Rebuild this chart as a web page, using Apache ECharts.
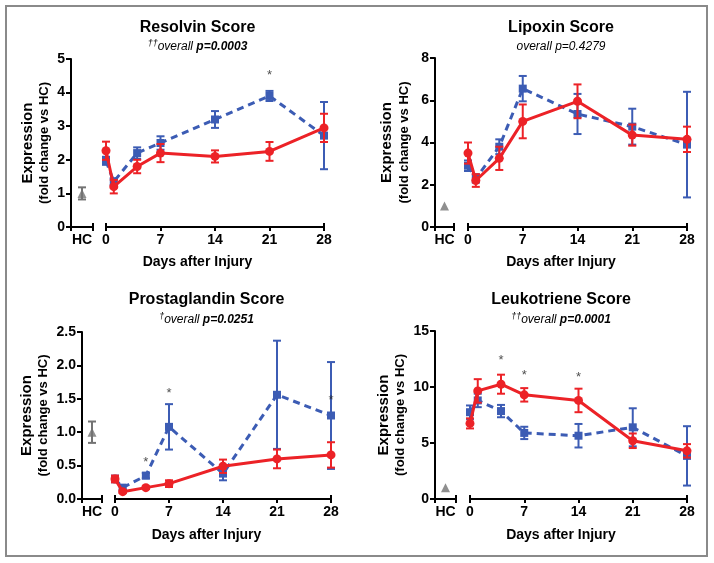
<!DOCTYPE html>
<html>
<head>
<meta charset="utf-8">
<script src="https://cdn.jsdelivr.net/npm/echarts@6/dist/echarts.min.js"></script>
<style>
html,body{margin:0;padding:0;background:#fff;}
#c{width:714px;height:563px;}
</style>
</head>
<body>
<div id="c"></div>
<script>
// ---------- data ----------
const days = [0, 1, 4, 7, 14, 21, 28];
const xTicks = [0, 7, 14, 21, 28];
const hcLabel = ['HC'];

const titles = ['Resolvin Score', 'Lipoxin Score', 'Prostaglandin Score', 'Leukotriene Score'];
const subDagger = ['††', '', '†', '††'];
const subP = ['p=0.0003', 'p=0.4279', 'p=0.0251', 'p=0.0001'];
const subBold = [true, false, true, true];

const yMax = [5, 8, 2.5, 15];
const yInterval = [1, 2, 0.5, 5];

// Resolvin
const resBlue = [1.97, 1.35, 2.2, 2.5, 3.2, 3.9, 2.72];
const resBlueErr = [0.12, 0.1, 0.17, 0.2, 0.25, 0.15, 1.0];
const resRed = [2.27, 1.2, 1.8, 2.2, 2.1, 2.25, 2.95];
const resRedErr = [0.27, 0.2, 0.2, 0.27, 0.18, 0.28, 0.42];
const resHC = [1.0];
const resHCErr = [0.18];
const resStars = [[21, 4.5]];

// Lipoxin
const lipBlue = [2.9, 2.3, 3.8, 6.55, 5.35, 4.75, 3.9];
const lipBlueErr = [0.25, 0.2, 0.35, 0.6, 0.95, 0.85, 2.5];
const lipRed = [3.5, 2.2, 3.25, 5.0, 5.95, 4.35, 4.15];
const lipRedErr = [0.5, 0.3, 0.55, 0.8, 0.8, 0.5, 0.6];
const lipHC = [1.0];
const lipHCErr = [0];
const lipStars = [];

// Prostaglandin
const proBlue = [0.3, 0.17, 0.35, 1.08, 0.38, 1.56, 1.25];
const proBlueErr = [0.05, 0.03, 0.04, 0.34, 0.1, 0.81, 0.8];
const proRed = [0.3, 0.11, 0.17, 0.23, 0.49, 0.6, 0.66];
const proRedErr = [0.05, 0.02, 0.02, 0.05, 0.1, 0.14, 0.19];
const proHC = [1.0];
const proHCErr = [0.16];
const proStars = [[4, 0.55], [7, 1.58], [28, 1.48]];

// Leukotriene
const leuBlue = [7.75, 8.8, 7.85, 5.9, 5.65, 6.4, 3.85];
const leuBlueErr = [0.6, 0.6, 0.55, 0.55, 1.05, 1.7, 2.65];
const leuRed = [6.75, 9.65, 10.25, 9.3, 8.8, 5.2, 4.3];
const leuRedErr = [0.45, 1.05, 0.85, 0.6, 1.05, 0.65, 0.6];
const leuHC = [1.0];
const leuHCErr = [0];
const leuStars = [[4, 12.35], [7, 11.0], [14, 10.85]];

const panelsData = [
  {blue: resBlue, blueErr: resBlueErr, red: resRed, redErr: resRedErr, hc: resHC, hcErr: resHCErr, stars: resStars},
  {blue: lipBlue, blueErr: lipBlueErr, red: lipRed, redErr: lipRedErr, hc: lipHC, hcErr: lipHCErr, stars: lipStars},
  {blue: proBlue, blueErr: proBlueErr, red: proRed, redErr: proRedErr, hc: proHC, hcErr: proHCErr, stars: proStars},
  {blue: leuBlue, blueErr: leuBlueErr, red: leuRed, redErr: leuRedErr, hc: leuHC, hcErr: leuHCErr, stars: leuStars}
];

// ---------- layout ----------
const layout = [
  {yx: 71, top: 59, bottom: 227, hcEnd: 93, ms: 106, me: 324, titleY: 29, subY: 46, xnameY: 263, n1: 28, n2: 44},
  {yx: 435, top: 58, bottom: 227, hcEnd: 454, ms: 468, me: 687, titleY: 29, subY: 46, xnameY: 263, n1: 387, n2: 404},
  {yx: 82, top: 332, bottom: 499, hcEnd: 102, ms: 115, me: 331, titleY: 301, subY: 319, xnameY: 536, n1: 27, n2: 43},
  {yx: 435, top: 331, bottom: 499, hcEnd: 456, ms: 470, me: 687, titleY: 301, subY: 319, xnameY: 536, n1: 384, n2: 400}
];

const BLUE = '#3c5cb4';
const RED = '#ec2227';
const GRAY = '#737373';
const FONT = '"Liberation Sans", Arial, sans-serif';

function errRender(color, capW) {
  return function (params, api) {
    const x = api.value(0);
    const p1 = api.coord([x, api.value(1)]);
    const p2 = api.coord([x, api.value(2)]);
    const st = {stroke: color, lineWidth: 2};
    if (Math.abs(p1[1] - p2[1]) < 0.5) return {type: 'group', children: []};
    return {
      type: 'group',
      children: [
        {type: 'line', shape: {x1: p1[0], y1: p1[1], x2: p2[0], y2: p2[1]}, style: st},
        {type: 'line', shape: {x1: p1[0] - capW, y1: p1[1], x2: p1[0] + capW, y2: p1[1]}, style: st},
        {type: 'line', shape: {x1: p2[0] - capW, y1: p2[1], x2: p2[0] + capW, y2: p2[1]}, style: st}
      ]
    };
  };
}

const option = {
  animation: false,
  backgroundColor: '#fff',
  title: [], grid: [], xAxis: [], yAxis: [], series: [], graphic: []
};

const axisLbl = {color: '#000', fontFamily: FONT, fontWeight: 'bold', fontSize: 14};

layout.forEach((L, i) => {
  const D = panelsData[i];
  const gHC = option.grid.length;
  option.grid.push({left: L.yx, top: L.top, width: L.hcEnd - L.yx, height: L.bottom - L.top});
  const gM = option.grid.length;
  option.grid.push({left: L.ms, top: L.top, width: L.me - L.ms, height: L.bottom - L.top});

  const xHC = option.xAxis.length;
  option.xAxis.push({
    type: 'category', gridIndex: gHC, data: hcLabel, boundaryGap: true, position: 'bottom',
    axisLine: {show: true, onZero: false, lineStyle: {color: '#000', width: 2}},
    axisTick: {show: true, length: 4, lineStyle: {color: '#000', width: 2}, alignWithLabel: false},
    axisLabel: Object.assign({margin: 6}, axisLbl),
    splitLine: {show: false}
  });
  option.xAxis.push({
    type: 'category', gridIndex: gHC, data: hcLabel, boundaryGap: true, position: 'bottom',
    axisLine: {show: false, onZero: false},
    axisTick: {show: true, inside: true, length: 4, lineStyle: {color: '#000', width: 2}},
    axisLabel: {show: false}, splitLine: {show: false}
  });
  const xM = option.xAxis.length;
  option.xAxis.push({
    type: 'value', gridIndex: gM, min: 0, max: 28, interval: 7, position: 'bottom',
    axisLine: {show: true, onZero: false, lineStyle: {color: '#000', width: 2}},
    axisTick: {show: true, length: 4, lineStyle: {color: '#000', width: 2}},
    axisLabel: Object.assign({margin: 6}, axisLbl),
    splitLine: {show: false}
  });
  option.xAxis.push({
    type: 'value', gridIndex: gM, min: 0, max: 28, interval: 28, position: 'bottom',
    axisLine: {show: false, onZero: false},
    axisTick: {show: true, inside: true, length: 4, lineStyle: {color: '#000', width: 2}},
    axisLabel: {show: false}, splitLine: {show: false}
  });

  const yHC = option.yAxis.length;
  option.yAxis.push({
    type: 'value', gridIndex: gHC, min: 0, max: yMax[i], interval: yInterval[i], position: 'left',
    axisLine: {show: true, onZero: false, lineStyle: {color: '#000', width: 2}},
    axisTick: {show: true, length: 5, lineStyle: {color: '#000', width: 2}},
    axisLabel: Object.assign({margin: 6, formatter: v => (i === 2 ? v.toFixed(1) : String(v))}, axisLbl),
    splitLine: {show: false}
  });
  const yM = option.yAxis.length;
  option.yAxis.push({
    type: 'value', gridIndex: gM, min: 0, max: yMax[i], interval: yInterval[i], show: false,
    splitLine: {show: false}
  });

  // HC
  option.series.push({
    type: 'custom', xAxisIndex: xHC, yAxisIndex: yHC, z: 3,
    renderItem: errRender(GRAY, 4),
    data: D.hc.map((v, k) => [k, v - D.hcErr[k], v + D.hcErr[k]])
  });
  option.series.push({
    type: 'scatter', xAxisIndex: xHC, yAxisIndex: yHC, z: 4,
    symbol: 'triangle', symbolSize: 9, itemStyle: {color: GRAY},
    data: D.hc.map((v, k) => [k, v])
  });

  // Blue
  option.series.push({
    type: 'custom', xAxisIndex: xM, yAxisIndex: yM, z: 3,
    renderItem: errRender(BLUE, 4),
    data: days.map((d, k) => [d, D.blue[k] - D.blueErr[k], D.blue[k] + D.blueErr[k]])
  });
  option.series.push({
    type: 'line', xAxisIndex: xM, yAxisIndex: yM, z: 4,
    symbol: 'rect', symbolSize: 8, showAllSymbol: true,
    lineStyle: {color: BLUE, width: 3, type: [7, 5]},
    itemStyle: {color: BLUE},
    data: days.map((d, k) => [d, D.blue[k]])
  });
  // Red
  option.series.push({
    type: 'custom', xAxisIndex: xM, yAxisIndex: yM, z: 5,
    renderItem: errRender(RED, 4),
    data: days.map((d, k) => [d, D.red[k] - D.redErr[k], D.red[k] + D.redErr[k]])
  });
  option.series.push({
    type: 'line', xAxisIndex: xM, yAxisIndex: yM, z: 6,
    symbol: 'circle', symbolSize: 9, showAllSymbol: true,
    lineStyle: {color: RED, width: 3},
    itemStyle: {color: RED},
    data: days.map((d, k) => [d, D.red[k]])
  });
  // Stars
  option.series.push({
    type: 'scatter', xAxisIndex: xM, yAxisIndex: yM, z: 7,
    symbolSize: 1, itemStyle: {color: 'rgba(0,0,0,0)'},
    label: {show: true, position: 'inside', formatter: '*', color: '#222', fontSize: 13, fontFamily: FONT},
    data: D.stars
  });

  const cx = (L.yx + L.me) / 2;
  option.title.push({
    text: titles[i], left: cx, top: L.titleY - 9, textAlign: 'center', padding: 0,
    textStyle: {fontFamily: FONT, fontWeight: 'bold', fontSize: 16, color: '#000'}
  });
  const bold = subBold[i] ? 'bi' : 'it';
  option.title.push({
    text: '{sup|' + subDagger[i] + '}{it|overall }{' + bold + '|' + subP[i] + '}',
    left: cx, top: L.subY - 7, textAlign: 'center', padding: 0,
    textStyle: {
      fontFamily: FONT, fontSize: 12, fontWeight: 'normal', color: '#000',
      rich: {
        sup: {fontFamily: FONT, fontSize: 9, fontStyle: 'italic', fontWeight: 'normal', verticalAlign: 'top', padding: [0, 0, 6, 0], color: '#000'},
        it: {fontFamily: FONT, fontSize: 12, fontStyle: 'italic', fontWeight: 'normal', color: '#000'},
        bi: {fontFamily: FONT, fontSize: 12, fontStyle: 'italic', fontWeight: 'bold', color: '#000'}
      }
    }
  });
  option.title.push({
    text: 'Days after Injury', left: cx, top: L.xnameY - 8, textAlign: 'center', padding: 0,
    textStyle: {fontFamily: FONT, fontWeight: 'bold', fontSize: 14, color: '#000'}
  });
  const cy = (L.top + L.bottom) / 2;
  option.graphic.push({
    type: 'text', x: L.n1, y: cy, rotation: Math.PI / 2,
    style: {text: 'Expression', fontFamily: FONT, fontWeight: 'bold', fontSize: 15, fill: '#000', align: 'center', verticalAlign: 'middle'}
  });
  option.graphic.push({
    type: 'text', x: L.n2, y: cy, rotation: Math.PI / 2,
    style: {text: '(fold change vs HC)', fontFamily: FONT, fontWeight: 'bold', fontSize: 13, fill: '#000', align: 'center', verticalAlign: 'middle'}
  });
});

option.graphic.push({
  type: 'rect', shape: {x: 6, y: 6, width: 701, height: 550},
  style: {fill: 'none', stroke: '#8a8a8a', lineWidth: 2}, z: -1
});

const chart = echarts.init(document.getElementById('c'), null, {renderer: 'canvas'});
chart.setOption(option);
</script>
</body>
</html>
